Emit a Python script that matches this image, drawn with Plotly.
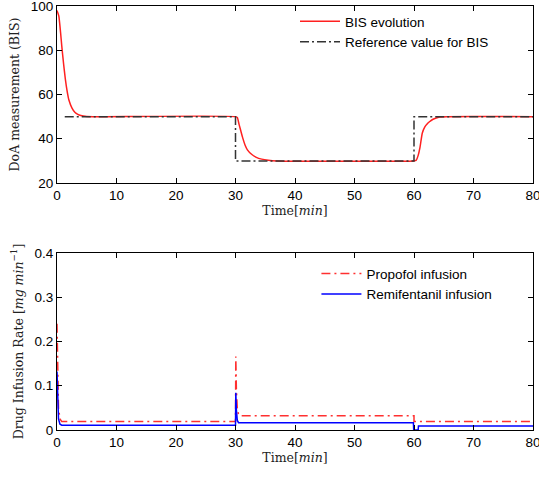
import plotly.graph_objects as go

# ---- data ----
bis_t = [0, 0.3, 0.6, 0.8, 1.1, 1.4, 1.7, 2.0, 2.5, 3.0, 3.5, 4.0, 5.0, 6.0,
         30.0, 30.3, 30.6, 30.9, 31.2, 31.6, 32.0, 32.7, 33.5, 34.4, 35.5, 37.0,
         60.0, 60.35, 60.7, 61.0, 61.4, 61.8, 62.2, 62.6, 63.2, 64.3, 65.5, 80.0]
bis_v = [98, 95.5, 88, 82, 74, 67, 61.5, 57.5, 54, 52, 51, 50.5, 50.1, 50,
         50, 49.6, 46.5, 43.5, 40.5, 37.2, 35, 33, 31.6, 30.8, 30.3, 30,
         30, 30.2, 32.5, 36, 42.6, 45.3, 46.7, 47.7, 48.8, 49.8, 50, 50]

ref_t = [1.3, 30, 30, 60, 60, 80]
ref_v = [50, 50, 30, 30, 50, 50]

prop_t = [0, 0.1, 0.25, 0.5, 0.8, 30.0, 30.05, 30.15, 30.3, 30.5, 30.8, 60.0, 60.0, 80.0]
prop_v = [0.24, 0.13, 0.05, 0.025, 0.019, 0.019, 0.166, 0.09, 0.05, 0.035, 0.032, 0.032, 0.019, 0.019]

remi_t = [0, 0.1, 0.25, 0.5, 0.8, 30.0, 30.05, 30.15, 30.3, 30.5, 59.9, 59.95, 60.7, 60.75, 80.0]
remi_v = [0.132, 0.06, 0.025, 0.013, 0.011, 0.011, 0.084, 0.045, 0.022, 0.0165, 0.0165, 0.0, 0.0, 0.009, 0.009]

x_ticks = [0, 10, 20, 30, 40, 50, 60, 70, 80]
bis_ticks = [20, 40, 60, 80, 100]
rate_ticks = [0, 0.1, 0.2, 0.3, 0.4]

fig = go.Figure()
fig.add_trace(go.Scatter(x=bis_t, y=bis_v, mode="lines", name="BIS evolution",
                         line=dict(color="#ff2020", width=1.5, shape="spline", smoothing=0.6),
                         xaxis="x", yaxis="y", legend="legend"))
fig.add_trace(go.Scatter(x=ref_t, y=ref_v, mode="lines", name="Reference value for BIS",
                         line=dict(color="#333333", width=1.5, dash="9px,3px,2px,3px"),
                         xaxis="x", yaxis="y", legend="legend"))
fig.add_trace(go.Scatter(x=prop_t, y=prop_v, mode="lines", name="Propofol infusion",
                         line=dict(color="#ff3030", width=1.5, dash="9px,4px,2px,4px"),
                         xaxis="x2", yaxis="y2", legend="legend2"))
fig.add_trace(go.Scatter(x=remi_t, y=remi_v, mode="lines", name="Remifentanil infusion",
                         line=dict(color="#0000ff", width=1.5),
                         xaxis="x2", yaxis="y2", legend="legend2"))

tickfont = dict(family="Liberation Sans, Arial, sans-serif", size=13.5, color="#000")
titlefont = dict(family="DejaVu Serif, serif", size=12.5, color="#222")
axcommon = dict(showline=True, linecolor="#000", linewidth=1, mirror="ticks", ticks="inside",
                ticklen=5, tickcolor="#000", showgrid=False, zeroline=False, tickfont=tickfont,
                ticklabeloverflow="allow", automargin=False)

legfont = dict(family="Liberation Sans, Arial, sans-serif", size=13.5, color="#000")

fig.update_layout(
    width=539, height=481,
    margin=dict(l=57, r=6, t=6, b=51),
    paper_bgcolor="white", plot_bgcolor="white",
    xaxis=dict(domain=[0, 1], range=[0, 80], tickvals=x_ticks, anchor="y",
               title=dict(text="Time[<i>min</i>]", font=titlefont, standoff=4), **axcommon),
    yaxis=dict(domain=[0.5825, 1], range=[20, 100], tickvals=bis_ticks, anchor="x",
               title=dict(text="DoA measurement (BIS)", font=titlefont, standoff=8), **axcommon),
    xaxis2=dict(domain=[0, 1], range=[0, 80], tickvals=x_ticks, anchor="y2",
                title=dict(text="Time[<i>min</i>]", font=titlefont, standoff=4), **axcommon),
    yaxis2=dict(domain=[0, 0.4175], range=[0, 0.4], tickvals=rate_ticks, anchor="x2",
                title=dict(text="Drug Infusion Rate [<i>mg min</i><sup>−1</sup>]", font=titlefont, standoff=8),
                **axcommon),
    legend=dict(x=0.50, y=1.0, xanchor="left", yanchor="top", bgcolor="rgba(0,0,0,0)",
                font=legfont, tracegroupgap=0, itemwidth=40),
    legend2=dict(x=0.545, y=0.405, xanchor="left", yanchor="top", bgcolor="rgba(0,0,0,0)",
                 font=legfont, tracegroupgap=0, itemwidth=40),
    showlegend=True,
)

fig.write_html("out.html")
